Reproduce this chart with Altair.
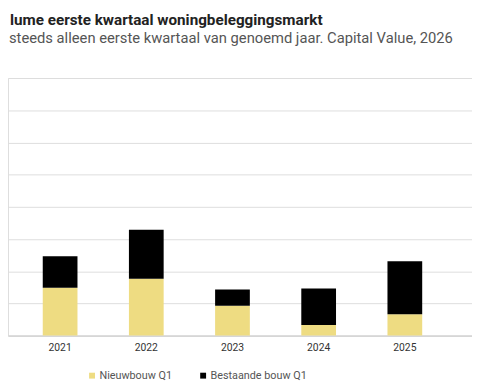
import altair as alt
import pandas as pd

FONT = "Roboto"

years = ["2021", "2022", "2023", "2024", "2025"]
nieuwbouw = [372, 442, 232, 82, 165]
bestaande = [245, 380, 125, 283, 412]
series = ["Nieuwbouw Q1", "Bestaande bouw Q1"]
colors = ["#EEDC82", "#000000"]
y_ticks = [0, 250, 500, 750, 1000, 1250, 1500, 1750, 2000]
title_text = "lume eerste kwartaal woningbeleggingsmarkt"
subtitle_text = "steeds alleen eerste kwartaal van genoemd jaar. Capital Value, 2026"

rows = []
for i, yr in enumerate(years):
    rows.append({"jaar": yr, "serie": series[0], "waarde": nieuwbouw[i], "ord": 0})
    rows.append({"jaar": yr, "serie": series[1], "waarde": bestaande[i], "ord": 1})
df = pd.DataFrame(rows)

bars = alt.Chart(df).mark_bar().encode(
    x=alt.X(
        "jaar:N", sort=years, title=None,
        scale=alt.Scale(paddingInner=0.597, paddingOuter=0.4905, align=0.411),
        axis=alt.Axis(labelAngle=0, ticks=False, domain=True, domainColor="#cccccc",
                      labelFont=FONT, labelFontSize=10.5, labelColor="#333333",
                      labelPadding=7, grid=False),
    ),
    y=alt.Y(
        "waarde:Q", stack="zero", title=None,
        scale=alt.Scale(domain=[0, 2000], nice=False),
        axis=alt.Axis(values=y_ticks, labels=False, ticks=False, domain=False,
                      grid=True, gridColor="#dddddd"),
    ),
    color=alt.Color(
        "serie:N",
        scale=alt.Scale(domain=series, range=colors),
        legend=alt.Legend(title=None, orient="none", legendX=80, legendY=297,
                          direction="horizontal", symbolType="square", symbolSize=36,
                          symbolStrokeWidth=0, labelFont=FONT, labelFontSize=11,
                          labelColor="#555555", columnPadding=26, labelOffset=2,
                          padding=0),
    ),
    order=alt.Order("ord:Q", sort="ascending"),
)

title_layer = alt.Chart(pd.DataFrame({"t": [title_text]})).mark_text(
    align="left", baseline="alphabetic", font=FONT, fontSize=15.5, fontWeight="bold",
    color="#222222",
).encode(text="t:N", x=alt.value(2), y=alt.value(-54))

subtitle_layer = alt.Chart(pd.DataFrame({"t": [subtitle_text]})).mark_text(
    align="left", baseline="alphabetic", font=FONT, fontSize=15,
    color="#555555",
).encode(text="t:N", x=alt.value(1), y=alt.value(-35.5))

chart = alt.layer(bars, title_layer, subtitle_layer).properties(
    width=472, height=262,
    padding={"left": 0, "top": 68, "right": 0, "bottom": 46},
    autosize=alt.AutoSizeParams(type="none"),
).configure_view(stroke=None).configure(background="white")

chart.save("out.html", embed_options={"renderer": "svg", "actions": False})
